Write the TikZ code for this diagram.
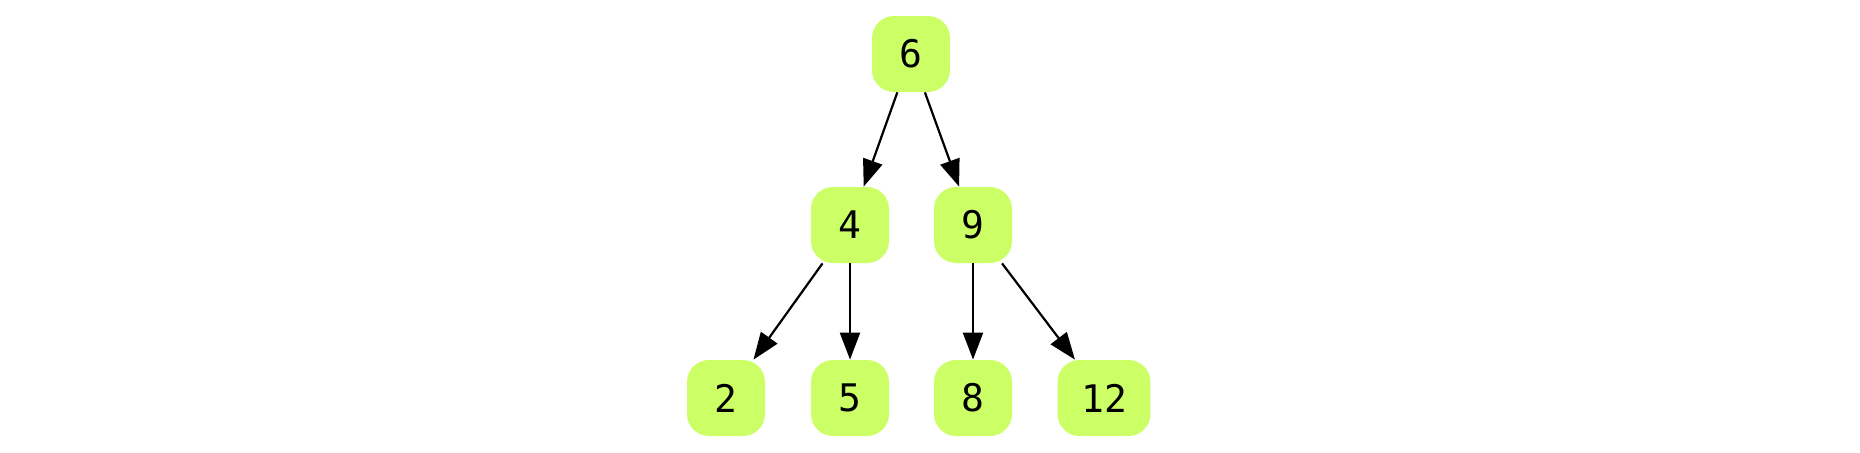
\documentclass[tikz,border=0pt]{standalone}
\usepackage{fontspec}
\setmonofont{DejaVu Sans Mono}
\usepackage{tikz}
\usetikzlibrary{arrows.meta}
\definecolor{leaf}{RGB}{204,255,102}

\begin{document}
\begin{tikzpicture}[x=0.5pt,y=-0.5pt,
  knot/.style={fill=leaf,rounded corners=11pt,minimum width=39pt,minimum height=38pt,
  inner xsep=11.8pt,font=\fontsize{19}{22}\selectfont\ttfamily},
  edge/.style={line width=1.1pt,-{Triangle[length=13.5pt,width=10pt]}}]
  \useasboundingbox (0,0) rectangle (1860,452);

  \node [knot] (n6) at (911,54) {6};
  \node [knot] (n4) at (850,225) {4};
  \node [knot] (n9) at (973,225) {9};
  \node [knot] (n2) at (726,398) {2};
  \node [knot] (n5) at (850,398) {5};
  \node [knot] (n8) at (973,398) {8};
  \node [knot] (n12) at (1104,398) {12};

  \draw [edge] (n6) -- (n4);
  \draw [edge] (n6) -- (n9);
  \draw [edge] (n4) -- (n2);
  \draw [edge] (n4) -- (n5);
  \draw [edge] (n9) -- (n8);
  \draw [edge] (n9) -- (n12);
\end{tikzpicture}
\end{document}
